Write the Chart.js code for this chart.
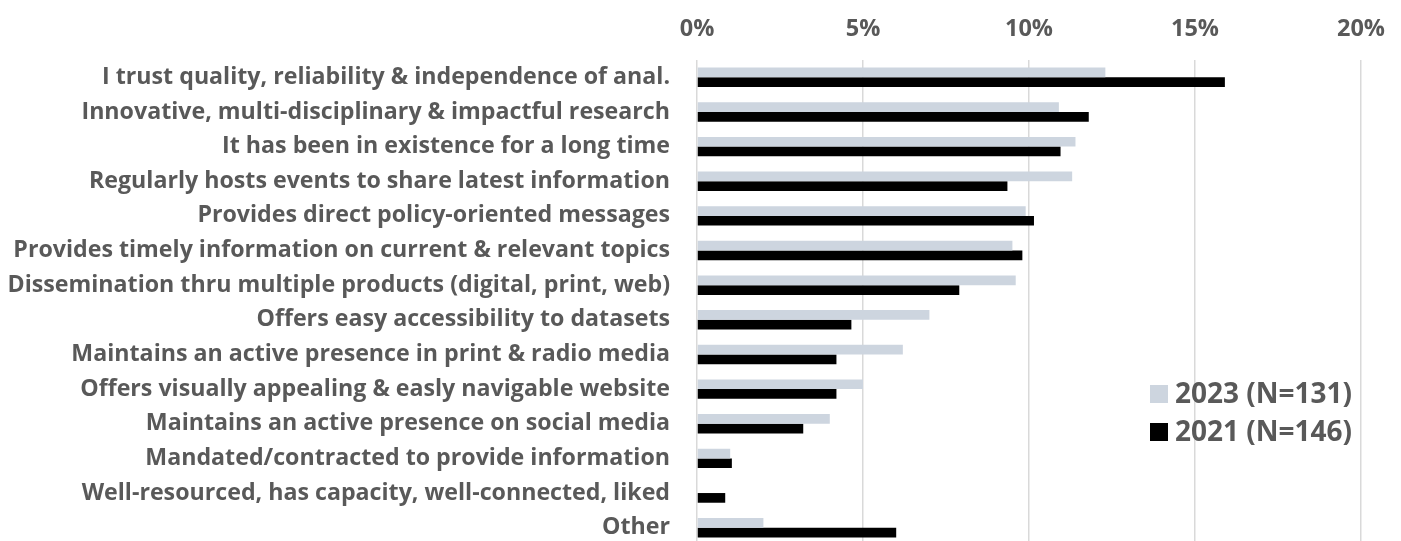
<!DOCTYPE html>
<html><head><meta charset="utf-8">
<script src="https://cdn.jsdelivr.net/npm/chart.js@4/dist/chart.umd.min.js"></script>
<style>html,body{margin:0;padding:0;background:#fff;overflow:hidden}
canvas{display:block}</style></head>
<body><canvas id="c" width="1401" height="545"></canvas>
<script>
const categories = [
  'I trust quality, reliability & independence of anal.',
  'Innovative, multi-disciplinary & impactful research',
  'It has been in existence for a long time',
  'Regularly hosts events to share latest information',
  'Provides direct policy-oriented messages',
  'Provides timely information on current & relevant topics',
  'Dissemination thru multiple products (digital, print, web)',
  'Offers easy accessibility to datasets',
  'Maintains an active presence in print & radio media',
  'Offers visually appealing & easly navigable website',
  'Maintains an active presence on social media',
  'Mandated/contracted to provide information',
  'Well-resourced, has capacity, well-connected, liked',
  'Other'
];
const values2023 = [12.3, 10.9, 11.4, 11.3, 9.9, 9.5, 9.6, 7.0, 6.2, 5.0, 4.0, 1.0, 0, 2.0];
const values2021 = [15.9, 11.8, 10.95, 9.35, 10.15, 9.8, 7.9, 4.65, 4.2, 4.2, 3.2, 1.05, 0.85, 6.0];
const seriesLabels = ['2023 (N=131)', '2021 (N=146)'];
const xTickValues = [0, 5, 10, 15, 20];

const TEXT = '#595959';
const FONT = 'Open Sans';
const sideLegend = {
  id: 'sideLegend',
  afterDraw(chart) {
    const ctx = chart.ctx;
    ctx.save();
    ctx.font = 'bold 28px "' + FONT + '"';
    ctx.textBaseline = 'middle';
    ctx.textAlign = 'left';
    chart.data.datasets.forEach((ds, i) => {
      const y = 394 + i * 38;
      ctx.fillStyle = ds.backgroundColor;
      ctx.fillRect(1150, y - 9, 18, 18);
      ctx.fillStyle = TEXT;
      ctx.fillText(ds.label, 1175, y + 1);
    });
    ctx.restore();
  }
};

new Chart(document.getElementById('c'), {
  type: 'bar',
  data: {
    labels: categories,
    datasets: [
      { label: seriesLabels[0], data: values2023, backgroundColor: '#CDD5DF', borderWidth: 0 },
      { label: seriesLabels[1], data: values2021, backgroundColor: '#000000', borderWidth: 0 }
    ]
  },
  options: {
    indexAxis: 'y',
    responsive: false,
    maintainAspectRatio: false,
    animation: false,
    devicePixelRatio: 1,
    layout: { padding: { left: 0, right: 40, top: 0, bottom: 0 } },
    datasets: { bar: { categoryPercentage: 0.56, barPercentage: 1.0 } },
    plugins: { legend: { display: false }, tooltip: { enabled: false } },
    scales: {
      x: {
        position: 'top',
        min: 0, max: 20,
        afterBuildTicks(scale) { scale.ticks = xTickValues.map(v => ({ value: v })); },
        afterFit(scale) { scale.height = 60; scale.paddingLeft = 0; scale.paddingRight = 0; },
        grid: { color: '#D9D9D9', lineWidth: 1.5, drawTicks: false },
        border: { display: false },
        ticks: { color: TEXT, font: { family: FONT, weight: 'bold', size: 23.5 }, padding: 17,
                 callback: v => v + '%' }
      },
      y: {
        afterFit(scale) { scale.width = 697; scale.paddingTop = 0; scale.paddingBottom = 0; },
        grid: { display: false, drawTicks: false },
        border: { display: false },
        ticks: { color: TEXT, autoSkip: false, font: { family: FONT, weight: 'bold', size: 23.2 }, padding: 27 }
      }
    }
  },
  plugins: [sideLegend]
});
</script>
</body></html>
